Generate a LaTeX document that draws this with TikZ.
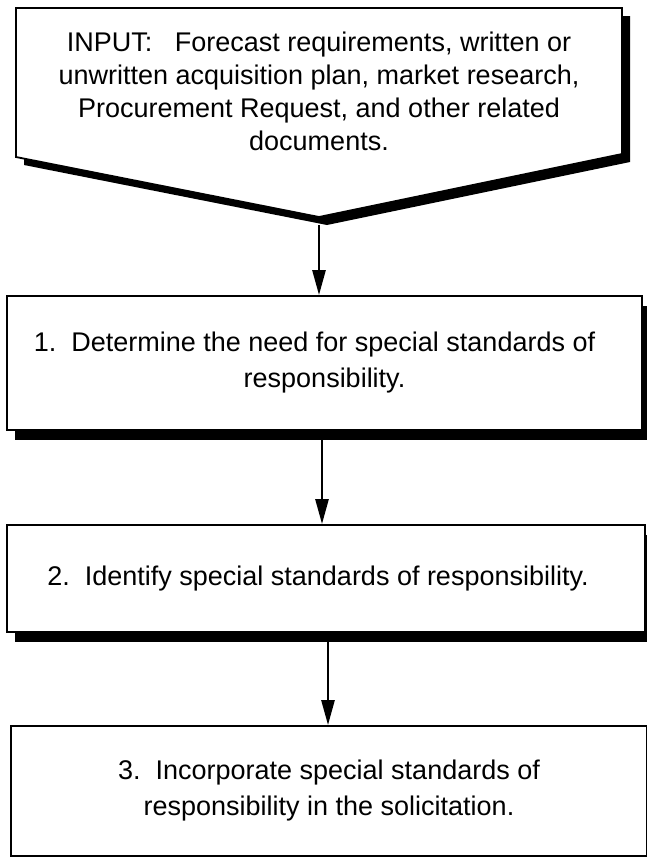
\documentclass[tikz,border=0pt]{standalone}
\usepackage{fontspec}
\setmainfont{Liberation Sans}
\usetikzlibrary{arrows.meta,shadows}
\begin{document}
\begin{tikzpicture}[x=1pt,y=-1pt,
  txt/.style={font=\fontsize{27}{33}\selectfont, align=center, inner sep=0pt},
  stepbox/.style={draw, line width=1.8pt, fill=white, inner sep=0pt,
    font=\fontsize{27}{36}\selectfont, align=center},
  shadowed/.style={general shadow={fill=black, shadow xshift=8pt, shadow yshift=-10pt}},
  arr/.style={line width=2.6pt, -{Triangle[length=25pt,width=13pt]}}]
\useasboundingbox (0,0) rectangle (647,857);

% input block: pentagon pointing down, with a solid offset shadow
\fill[shift={(8,8)}] (16,8) -- (622,8) -- (622,154) -- (319,217) -- (16,157) -- cycle;
\draw[line width=1.8pt, fill=white, line join=miter]
  (16,8) -- (622,8) -- (622,154) -- (319,217) -- (16,157) -- cycle;
\coordinate (intip) at (319,225);
\node[txt] (input) at (319,91) {INPUT:\ \ \ Forecast requirements, written or\\
  unwritten acquisition plan, market research,\\
  Procurement Request, and other related\\
  documents.};

% process steps
\node[stepbox, shadowed, minimum width=635pt, minimum height=134pt] (b1) at (324.5,363)
  {1.\ \ Determine the need for special standards of\hspace*{20pt}\\ responsibility.};
\node[stepbox, shadowed, minimum width=638pt, minimum height=107pt] (b2) at (326,578.5)
  {2.\ \ Identify special standards of responsibility.\hspace*{16pt}};
\node[stepbox, minimum width=636pt, minimum height=130pt] (b3) at (329,791)
  {3.\ \ Incorporate special standards of\\ responsibility in the solicitation.};

% connectors
\coordinate (b1top) at (b1.north -| intip);
\draw[arr] (intip) -- (b1top);
\coordinate (b1out) at (322,440);
\draw[arr] (b1out) -- (b1out |- b2.north);
\coordinate (b2out) at (328,642);
\draw[arr] (b2out) -- (b2out |- b3.north);
\end{tikzpicture}
\end{document}
